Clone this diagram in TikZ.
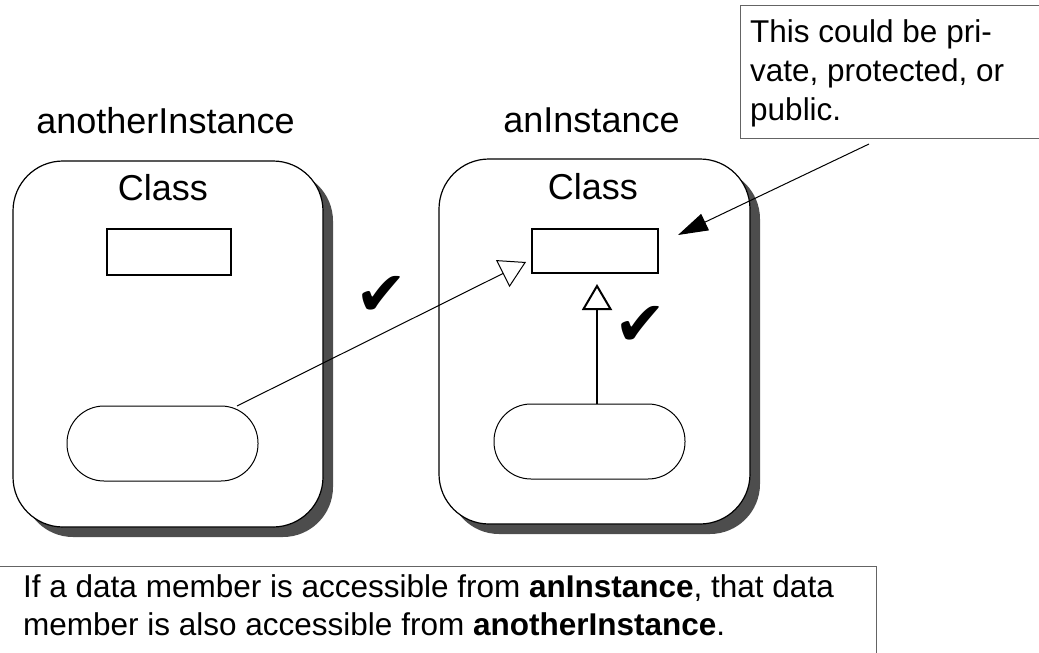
\documentclass[tikz,border=0pt]{standalone}
\usepackage{fontspec}
\setmainfont{Liberation Sans}
\newfontfamily\symfont{DejaVu Sans}
\usetikzlibrary{arrows.meta,shadows,calc}
\definecolor{shadowgray}{RGB}{77,77,77}
\definecolor{notegray}{RGB}{100,100,100}
\begin{document}
\begin{tikzpicture}[x=1pt,y=-1pt,
  bigtext/.style={font=\fontsize{36}{40}\selectfont, inner sep=0pt},
  instbox/.style={draw, line width=1.2pt, rounded corners=50pt, fill=white,
    drop shadow={shadow xshift=10pt, shadow yshift=-10pt, fill=shadowgray, opacity=1}},
  slot/.style={draw, line width=2.2pt, fill=white, inner sep=0pt, outer sep=0pt},
  pill/.style={draw, line width=1pt, rounded corners=37pt, minimum width=191pt, minimum height=75pt, inner sep=0pt, outer sep=0pt},
  opentip/.style={-{Triangle[open,length=26pt,width=30pt,fill=white]}},
  notebox/.style={draw=notegray, line width=1pt, inner sep=0pt, outer sep=0pt},
  checkmark/.style={font=\symfont\fontsize{62}{62}\selectfont, inner sep=0pt}
]
\useasboundingbox (0,0) rectangle (1039,653);
\clip (0,0) rectangle (1039,653);

% instance boxes
\node[instbox, minimum width=310pt, minimum height=366pt] (lbox) at (168,344) {};
\node[instbox, minimum width=311pt, minimum height=365pt] (rbox) at (594.5,341.5) {};

% labels
\node[bigtext, anchor=base] (lname) at (165.5,133) {anotherInstance};
\node[bigtext, anchor=base] (rname) at (591.5,132) {anInstance};
\node[bigtext, anchor=base] (lclass) at (163,200) {Class};
\node[bigtext, anchor=base] (rclass) at (593,199) {Class};

% data members and methods
\node[slot, minimum width=124pt, minimum height=46pt] (lslot) at (169,252) {};
\node[slot, minimum width=126pt, minimum height=44pt] (rslot) at (595,251) {};
\node[pill] (lpill) at (162.5,443.5) {};
\node[pill] (rpill) at (589.5,441.5) {};

% connectors
\coordinate (lstart) at ($(lpill.north)+(74.5,0)$);
\coordinate (ltip) at ($(rslot.south west)+(-6,-11)$);
\draw[line width=1pt, opentip] (lstart) -- (ltip);
\coordinate (rstart) at ($(rpill.north)+(7.5,0)$);
\coordinate (rtip) at ($(rslot.south)+(2,11)$);
\draw[line width=2pt, opentip] (rstart) -- (rtip);

% check marks
\node[checkmark] (check1) at (381.5,295.5) {✔};
\node[checkmark] (check2) at (640.5,326) {✔};

% callout
\node[notebox, anchor=north west, minimum width=330pt, minimum height=133pt] (callout) at (740,5) {};
\node[anchor=base west, inner sep=0pt] (callouttext) at (750,42)
  {\parbox[t]{320pt}{\fontsize{31.5}{39}\selectfont This could be pri-\\vate, protected, or\\public.}};
\coordinate (cstart) at ($(callout.south west)+(129,6)$);
\coordinate (ctip) at ($(rslot.east)+(20,-16)$);
\draw[line width=1pt, -{Triangle[length=30pt,width=18pt]}] (cstart) -- (ctip);

% bottom note
\node[notebox, anchor=north east, minimum width=900pt, minimum height=120pt] (bottom) at (876,566) {};
\node[anchor=base west, inner sep=0pt] (bottomtext) at (23,597)
  {\parbox[t]{850pt}{\fontsize{31.5}{38}\selectfont If a data member is accessible from \textbf{anInstance}, that data\\member is also accessible from \textbf{anotherInstance}.}};
\end{tikzpicture}
\end{document}
